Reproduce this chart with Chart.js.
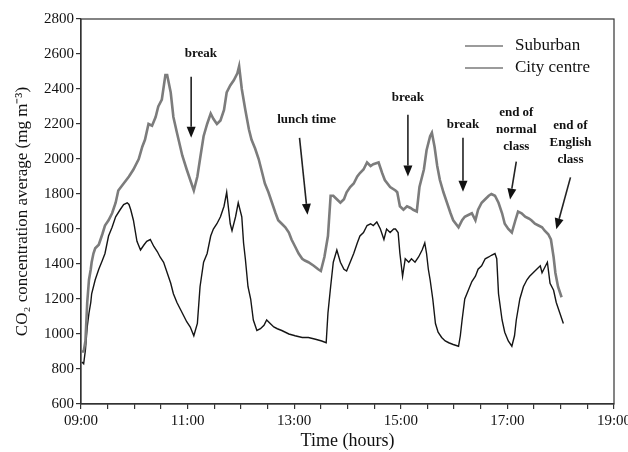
<!DOCTYPE html>
<html>
<head>
<meta charset="utf-8">
<script src="https://cdn.jsdelivr.net/npm/chart.js@4.4.1/dist/chart.umd.min.js"></script>
<style>
  html, body { margin: 0; padding: 0; background: #fff; }
  #box { width: 628px; height: 452px; }
</style>
</head>
<body>
<div id="box"><canvas id="co2"></canvas></div>
<script>
// minutes after 09:00 and CO2 values
const cityMin = [1,3,5,7,9,11,12,14,16,20,
  24,27,31,35,39,42,48,54,59,65,
  69,72,76,80,84,87,91,95,97,101,
  104,108,114,119,123,127,131,134,138,142,
  146,149,153,157,161,164,168,172,176,178,
  181,185,189,192,196,200,204,207,211,215,
  219,222,226,230,234,237,241,245,249,252,
  256,262,267,270,274,278,281,284,288,292,
  296,299,303,307,311,314,318,322,326,329,
  335,339,342,348,354,356,359,363,367,371,
  374,378,381,386,389,393,395,398,401,404,
  408,412,416,419,425,429,432,436,440,444,
  447,451,455,459,462,466,470,474,477,481,
  485,489,492,496,500,504,507,511,515,519,
  522,526,529,532,534,537,541];
const cityVal = [900,900,960,1180,1310,1370,1410,1460,1490,1510,
  1570,1620,1650,1690,1750,1820,1860,1900,1940,2000,
  2070,2110,2200,2190,2240,2300,2340,2480,2480,2380,
  2240,2150,2020,1940,1880,1820,1900,2000,2130,2200,
  2260,2230,2200,2220,2280,2380,2420,2450,2490,2530,
  2400,2280,2170,2110,2060,2000,1920,1860,1810,1750,
  1690,1650,1630,1610,1580,1540,1500,1460,1430,1420,
  1410,1390,1370,1360,1440,1560,1790,1790,1770,1750,
  1770,1810,1840,1860,1900,1920,1940,1980,1960,1970,
  1980,1920,1880,1840,1820,1810,1730,1710,1730,1720,
  1710,1700,1840,1940,2050,2130,2150,2070,1960,1880,
  1810,1750,1690,1650,1610,1650,1670,1680,1690,1650,
  1710,1750,1770,1790,1800,1790,1750,1690,1630,1600,
  1580,1650,1700,1690,1670,1660,1650,1630,1620,1610,
  1590,1570,1540,1440,1350,1270,1210];

const suburbMin = [1,3,5,7,9,11,12,16,20,24,
  27,31,35,39,44,48,52,54,56,59,
  63,67,71,74,78,82,86,89,93,97,
  101,104,108,112,116,119,123,127,131,134,
  138,142,146,149,153,157,161,164,168,170,
  174,177,181,183,185,188,191,194,198,202,
  206,209,213,217,221,226,234,241,249,256,
  264,271,276,278,281,284,288,292,296,299,
  303,307,311,314,318,322,326,329,333,337,
  341,344,348,352,354,357,359,362,365,369,
  372,376,380,384,387,389,391,393,396,399,
  402,406,410,414,419,425,427,429,432,436,
  440,444,447,451,455,459,462,466,468,470,
  474,477,481,485,488,490,494,498,502,505,
  509,513,517,519,522,525,528,532,535,539,
  543];
const suburbVal = [840,830,910,1040,1120,1180,1230,1310,1370,1420,
  1460,1560,1610,1670,1710,1740,1750,1740,1710,1650,
  1530,1480,1510,1530,1540,1500,1470,1440,1410,1350,
  1290,1230,1180,1140,1100,1070,1040,990,1060,1270,
  1410,1460,1560,1600,1630,1670,1730,1810,1630,1590,
  1670,1750,1670,1520,1430,1270,1200,1080,1020,1030,
  1050,1080,1060,1040,1030,1020,1000,990,980,980,
  970,960,950,1120,1270,1410,1480,1410,1370,1360,
  1410,1460,1520,1560,1580,1620,1630,1620,1640,1600,
  1540,1600,1580,1600,1600,1580,1460,1330,1430,1410,
  1430,1410,1440,1480,1520,1460,1370,1310,1200,1060,
  1010,980,960,950,940,930,990,1080,1200,1250,
  1300,1330,1370,1390,1430,1440,1450,1460,1430,1230,
  1080,1010,960,930,990,1080,1200,1270,1310,1330,
  1350,1370,1390,1350,1380,1410,1290,1250,1180,1120,
  1060];

const seriesNames = ['Suburban', 'City centre'];
const timeLabels = ['09:00', '11:00', '13:00', '15:00', '17:00', '19:00'];

// text notes with arrows, in chart units (minutes, mg m-3)
const notes = [
  { lines: ['break'], x: 135, y: 2602, from: [124, 2470], to: [124, 2121] },
  { lines: ['lunch time'], x: 254, y: 2224, from: [246, 2121], to: [255, 1681] },
  { lines: ['break'], x: 368, y: 2352, from: [368, 2253], to: [368, 1900] },
  { lines: ['break'], x: 430, y: 2196, from: [430, 2121], to: [430, 1813] },
  { lines: ['end of', 'normal', 'class'], x: 490, y: 2264, from: [490, 1985], to: [483, 1768] },
  { lines: ['end of', 'English', 'class'], x: 551, y: 2192, from: [551, 1895], to: [535, 1598] }
];

const serif = "'Liberation Serif', 'Times New Roman', serif";

function toPoints(xs, ys) {
  return xs.map((m, i) => ({ x: m, y: ys[i] }));
}

// box round the plot + legend + notes
const extras = {
  id: 'extras',
  afterDraw(chart) {
    const ctx = chart.ctx;
    const a = chart.chartArea;
    const sx = chart.scales.x, sy = chart.scales.y;
    ctx.save();
    ctx.strokeStyle = '#333';
    ctx.lineWidth = 1.2;
    ctx.strokeRect(a.left, a.top, a.right - a.left, a.bottom - a.top);

    // legend
    ctx.font = '17px ' + serif;
    ctx.textBaseline = 'middle';
    ctx.fillStyle = '#111';
    seriesNames.forEach((name, i) => {
      const y = 46 + i * 22;
      ctx.strokeStyle = '#7a7a7a';
      ctx.lineWidth = 1.5;
      ctx.beginPath();
      ctx.moveTo(465, y);
      ctx.lineTo(503, y);
      ctx.stroke();
      ctx.fillText(name, 515, y);
    });

    // notes
    ctx.font = 'bold 13px ' + serif;
    ctx.textAlign = 'center';
    notes.forEach(n => {
      const tx = sx.getPixelForValue(n.x);
      const ty = sy.getPixelForValue(n.y);
      n.lines.forEach((t, k) => ctx.fillText(t, tx, ty + k * 17));
      const x1 = sx.getPixelForValue(n.from[0]), y1 = sy.getPixelForValue(n.from[1]);
      const x2 = sx.getPixelForValue(n.to[0]), y2 = sy.getPixelForValue(n.to[1]);
      const ang = Math.atan2(y2 - y1, x2 - x1);
      const hl = 11, hw = 4.5;
      const bx = x2 - hl * Math.cos(ang), by = y2 - hl * Math.sin(ang);
      ctx.strokeStyle = '#222';
      ctx.lineWidth = 1.6;
      ctx.beginPath();
      ctx.moveTo(x1, y1);
      ctx.lineTo(bx, by);
      ctx.stroke();
      ctx.fillStyle = '#111';
      ctx.beginPath();
      ctx.moveTo(x2, y2);
      ctx.lineTo(bx + hw * Math.sin(ang), by - hw * Math.cos(ang));
      ctx.lineTo(bx - hw * Math.sin(ang), by + hw * Math.cos(ang));
      ctx.closePath();
      ctx.fill();
    });
    ctx.restore();
  }
};

new Chart(document.getElementById('co2'), {
  type: 'line',
  data: {
    datasets: [
      {
        label: seriesNames[0],
        data: toPoints(suburbMin, suburbVal),
        borderColor: '#151515',
        borderWidth: 1.4,
        order: 1
      },
      {
        label: seriesNames[1],
        data: toPoints(cityMin, cityVal),
        borderColor: '#7c7c7c',
        borderWidth: 2.6,
        order: 0
      }
    ]
  },
  options: {
    responsive: true,
    maintainAspectRatio: false,
    animation: false,
    elements: {
      point: { radius: 0 },
      line: { tension: 0 }
    },
    layout: { padding: { top: 19, right: 14, left: 0, bottom: 0 } },
    plugins: {
      legend: { display: false },
      tooltip: { enabled: false }
    },
    scales: {
      x: {
        type: 'linear',
        min: 0,
        max: 600,
        afterFit(scale) {
          scale.height = 48;
          scale.paddingLeft = 0;
          scale.paddingRight = 0;
        },
        border: { display: true, color: '#333', width: 1.2 },
        grid: { display: true, drawOnChartArea: false, drawTicks: true, tickLength: 5, color: '#333', lineWidth: 1.2 },
        ticks: {
          stepSize: 30,
          autoSkip: false,
          maxRotation: 0,
          padding: 3,
          color: '#111',
          font: { family: serif, size: 15 },
          callback: (v) => (v % 120 === 0 ? timeLabels[v / 120] : '')
        },
        title: {
          display: true,
          text: 'Time (hours)',
          color: '#111',
          font: { family: serif, size: 18 },
          padding: { top: 0, bottom: 0 }
        }
      },
      y: {
        min: 600,
        max: 2800,
        afterFit(scale) {
          scale.width = 81;
          scale.paddingTop = 0;
          scale.paddingBottom = 0;
        },
        border: { display: true, color: '#333', width: 1.2 },
        grid: { display: true, drawOnChartArea: false, drawTicks: true, tickLength: 5, color: '#333', lineWidth: 1.2 },
        ticks: {
          stepSize: 200,
          padding: 2,
          color: '#111',
          font: { family: serif, size: 15 },
          callback: (v) => String(v)
        },
        title: {
          display: true,
          text: 'CO\u2082 concentration average (mg m\u207B\u00B3)',
          color: '#111',
          font: { family: serif, size: 17 },
          padding: { top: 12, bottom: 0 }
        }
      }
    }
  },
  plugins: [extras]
});
</script>
</body>
</html>
